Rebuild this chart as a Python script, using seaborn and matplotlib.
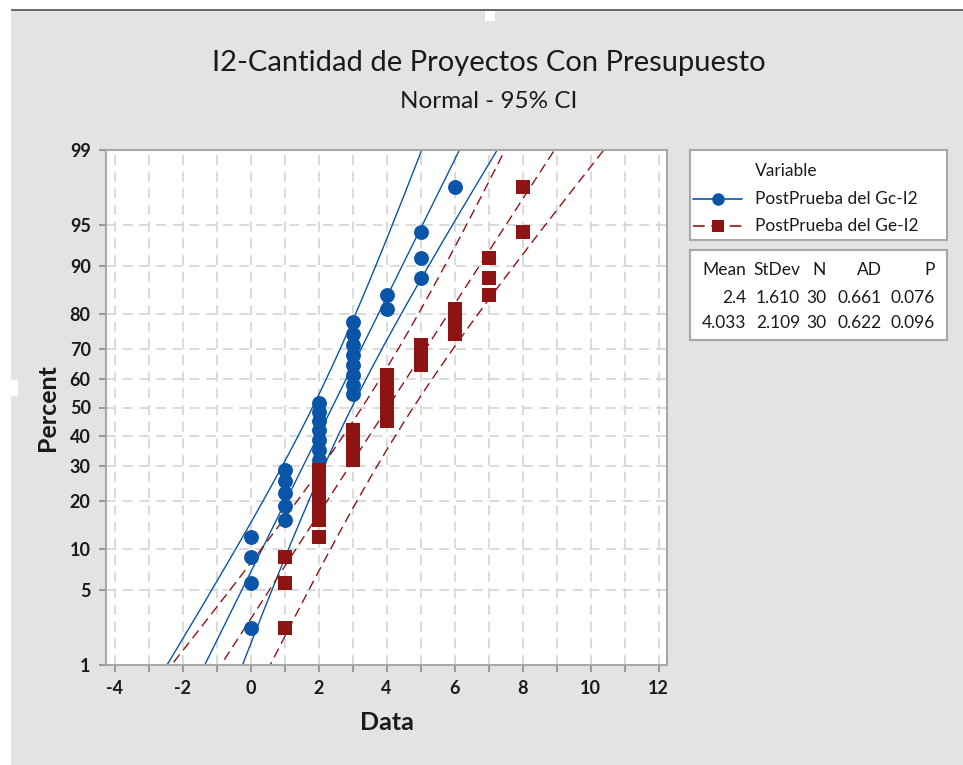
import numpy as np
import pandas as pd
import seaborn as sns
import matplotlib
matplotlib.use("Agg")
import matplotlib.pyplot as plt
from matplotlib.patches import Rectangle
from statistics import NormalDist

# Observed scores, written as value -> frequency
gc_values = [0, 1, 2, 3, 4, 5, 6]
gc_counts = [4, 5, 7, 8, 2, 3, 1]
ge_values = [1, 2, 3, 4, 5, 6, 7, 8]
ge_counts = [3, 6, 4, 6, 3, 3, 3, 2]

series_names = ["PostPrueba del Gc-I2", "PostPrueba del Ge-I2"]
series_colors = ["#0A55A8", "#8E1414"]
series_markers = ["o", "s"]
marker_areas = [115, 92]

# Anderson-Darling goodness-of-fit results
ad_values = [0.661, 0.622]
p_values = [0.076, 0.096]

percent_ticks = [1, 5, 10, 20, 30, 40, 50, 60, 70, 80, 90, 95, 99]
x_ticks = [-4, -2, 0, 2, 4, 6, 8, 10, 12]

W, H = 963, 765
FONT = ["Lato", "DejaVu Sans"]

sns.set_theme(style="white")
plt.rcParams["font.family"] = FONT

nd = NormalDist()
z975 = nd.inv_cdf(0.975)


def fx(x):
    return x / W


def fy(y):
    return 1 - y / H


# Long table of points with median-rank plotting positions
frames = []
stats = []
for name, vals, cnts in [(series_names[0], gc_values, gc_counts),
                         (series_names[1], ge_values, ge_counts)]:
    data = np.repeat(vals, cnts).astype(float)
    n = len(data)
    ranks = np.arange(1, n + 1)
    pos = (ranks - 0.3) / (n + 0.4)
    z = np.array([nd.inv_cdf(p) for p in pos])
    frames.append(pd.DataFrame({"Data": np.sort(data), "z": z, "Variable": name}))
    stats.append((data.mean(), data.std(ddof=1), n))

fig = plt.figure(figsize=(W / 100, H / 100), dpi=100, facecolor="white")

# Window-like backdrop
fig.patches.append(Rectangle((fx(11), 0), 1 - fx(11), fy(11), transform=fig.transFigure,
                             facecolor="#e3e3e3", edgecolor="none", zorder=-10))
fig.patches.append(Rectangle((fx(11), fy(11)), 1 - fx(11), 2.5 / H, transform=fig.transFigure,
                             facecolor="#6a6a6a", edgecolor="none", zorder=-9))
fig.patches.append(Rectangle((fx(485), fy(21)), 10 / W, 10 / H, transform=fig.transFigure,
                             facecolor="white", edgecolor="none", zorder=-8))
fig.patches.append(Rectangle((fx(10), fy(396)), 8 / W, 16 / H, transform=fig.transFigure,
                             facecolor="white", edgecolor="none", zorder=-8))

ax = fig.add_axes([fx(106), fy(665), fx(667) - fx(106), fy(150) - fy(665)])
ax.set_facecolor("white")

zlo, zhi = nd.inv_cdf(0.01), nd.inv_cdf(0.99)
zgrid = np.linspace(zlo - 0.3, zhi + 0.3, 200)
dash = (0, (6, 4))
red_dash = (0, (7, 4))

# Fitted lines with 95% confidence bands
for i, ((m, s, n), col) in enumerate(zip(stats, series_colors)):
    fit = m + s * zgrid
    half = z975 * s * np.sqrt(1.0 / n + zgrid ** 2 / (2.0 * n))
    ls = "-" if i == 0 else red_dash
    for xs in (fit, fit - half, fit + half):
        ax.plot(xs, zgrid, color=col, lw=1.0, ls=ls, zorder=2)

# Probability points, drawn series by series so the second sits on top
for df, col, mk, area in zip(frames, series_colors, series_markers, marker_areas):
    sns.scatterplot(data=df, x="Data", y="z", color=col, marker=mk, s=area,
                    linewidth=0, legend=False, ax=ax, zorder=3)

ax.set_xlim(-4.25, 12.25)
ax.set_ylim(zlo, zhi)
ax.set_xticks(x_ticks)
ax.set_xticks(np.arange(-3, 12, 2), minor=True)
ax.set_xticklabels([str(t) for t in x_ticks])
ax.set_yticks([nd.inv_cdf(p / 100) for p in percent_ticks])
ax.set_yticklabels([str(p) for p in percent_ticks])

ax.grid(True, which="both", axis="x", color="#d4d4d4", ls=dash, lw=1.2)
ax.grid(True, which="major", axis="y", color="#d4d4d4", ls=dash, lw=1.2)
ax.set_axisbelow(True)

for sp in ax.spines.values():
    sp.set_color("#a8a8a8")
    sp.set_linewidth(1.5)

ax.tick_params(axis="both", which="major", direction="out", length=5, width=1.2,
               color="#8a8a8a", labelsize=13, labelcolor="#1a1a1a", pad=6,
               bottom=True, left=True)
ax.tick_params(axis="x", which="minor", direction="out", length=5, width=1.2,
               color="#8a8a8a", bottom=True)
for lab in ax.get_xticklabels() + ax.get_yticklabels():
    lab.set_fontweight("bold")

ax.set_xlabel("Data", fontsize=18, fontweight="bold", color="#1a1a1a", labelpad=10)
ax.set_ylabel("Percent", fontsize=18, fontweight="bold", color="#1a1a1a", labelpad=8)

fig.text(fx(489), fy(63), "I2-Cantidad de Proyectos Con Presupuesto", ha="center",
         va="center", fontsize=21, color="#1a1a1a")
fig.text(fx(489), fy(101), "Normal - 95% CI", ha="center", va="center",
         fontsize=17.5, color="#1a1a1a")


def boxed_axes(x0, y0, x1, y1):
    b = fig.add_axes([fx(x0), fy(y1), fx(x1) - fx(x0), fy(y0) - fy(y1)])
    b.set_xlim(0, x1 - x0)
    b.set_ylim(y1 - y0, 0)
    b.set_xticks([])
    b.set_yticks([])
    b.set_facecolor("white")
    for sp in b.spines.values():
        sp.set_color("#a8a8a8")
        sp.set_linewidth(1.5)
    return b


# Legend box
lg = boxed_axes(690, 150, 947, 240)
lg.text(65, 21, "Variable", fontsize=12.5, va="center", color="#1a1a1a")
for i, (name, col, mk) in enumerate(zip(series_names, series_colors, series_markers)):
    yy = 49 + 27 * i
    ls = "-" if i == 0 else red_dash
    lg.plot([3, 52], [yy, yy], color=col, lw=1.2, ls=ls)
    lg.plot([28], [yy], marker=mk, color=col, ms=9, mew=0, ls="none")
    lg.text(65, yy, name, fontsize=12.5, va="center", color="#1a1a1a")

# Statistics table
tb = boxed_axes(690, 250, 947, 340)
col_right = [56, 110, 136, 192, 245]
headers = ["Mean", "StDev", "N", "AD", "P"]
for xr, h in zip(col_right, headers):
    tb.text(xr, 20, h, ha="right", va="center", fontsize=12.5, color="#1a1a1a")
for i, ((m, s, n), ad, p) in enumerate(zip(stats, ad_values, p_values)):
    row = [f"{m:.4g}", f"{s:.3f}", f"{n}", f"{ad:.3f}", f"{p:.3f}"]
    for xr, t in zip(col_right, row):
        tb.text(xr, 48 + 25 * i, t, ha="right", va="center", fontsize=12.5, color="#1a1a1a")

fig.savefig("out.png", dpi=100, facecolor=fig.get_facecolor())
